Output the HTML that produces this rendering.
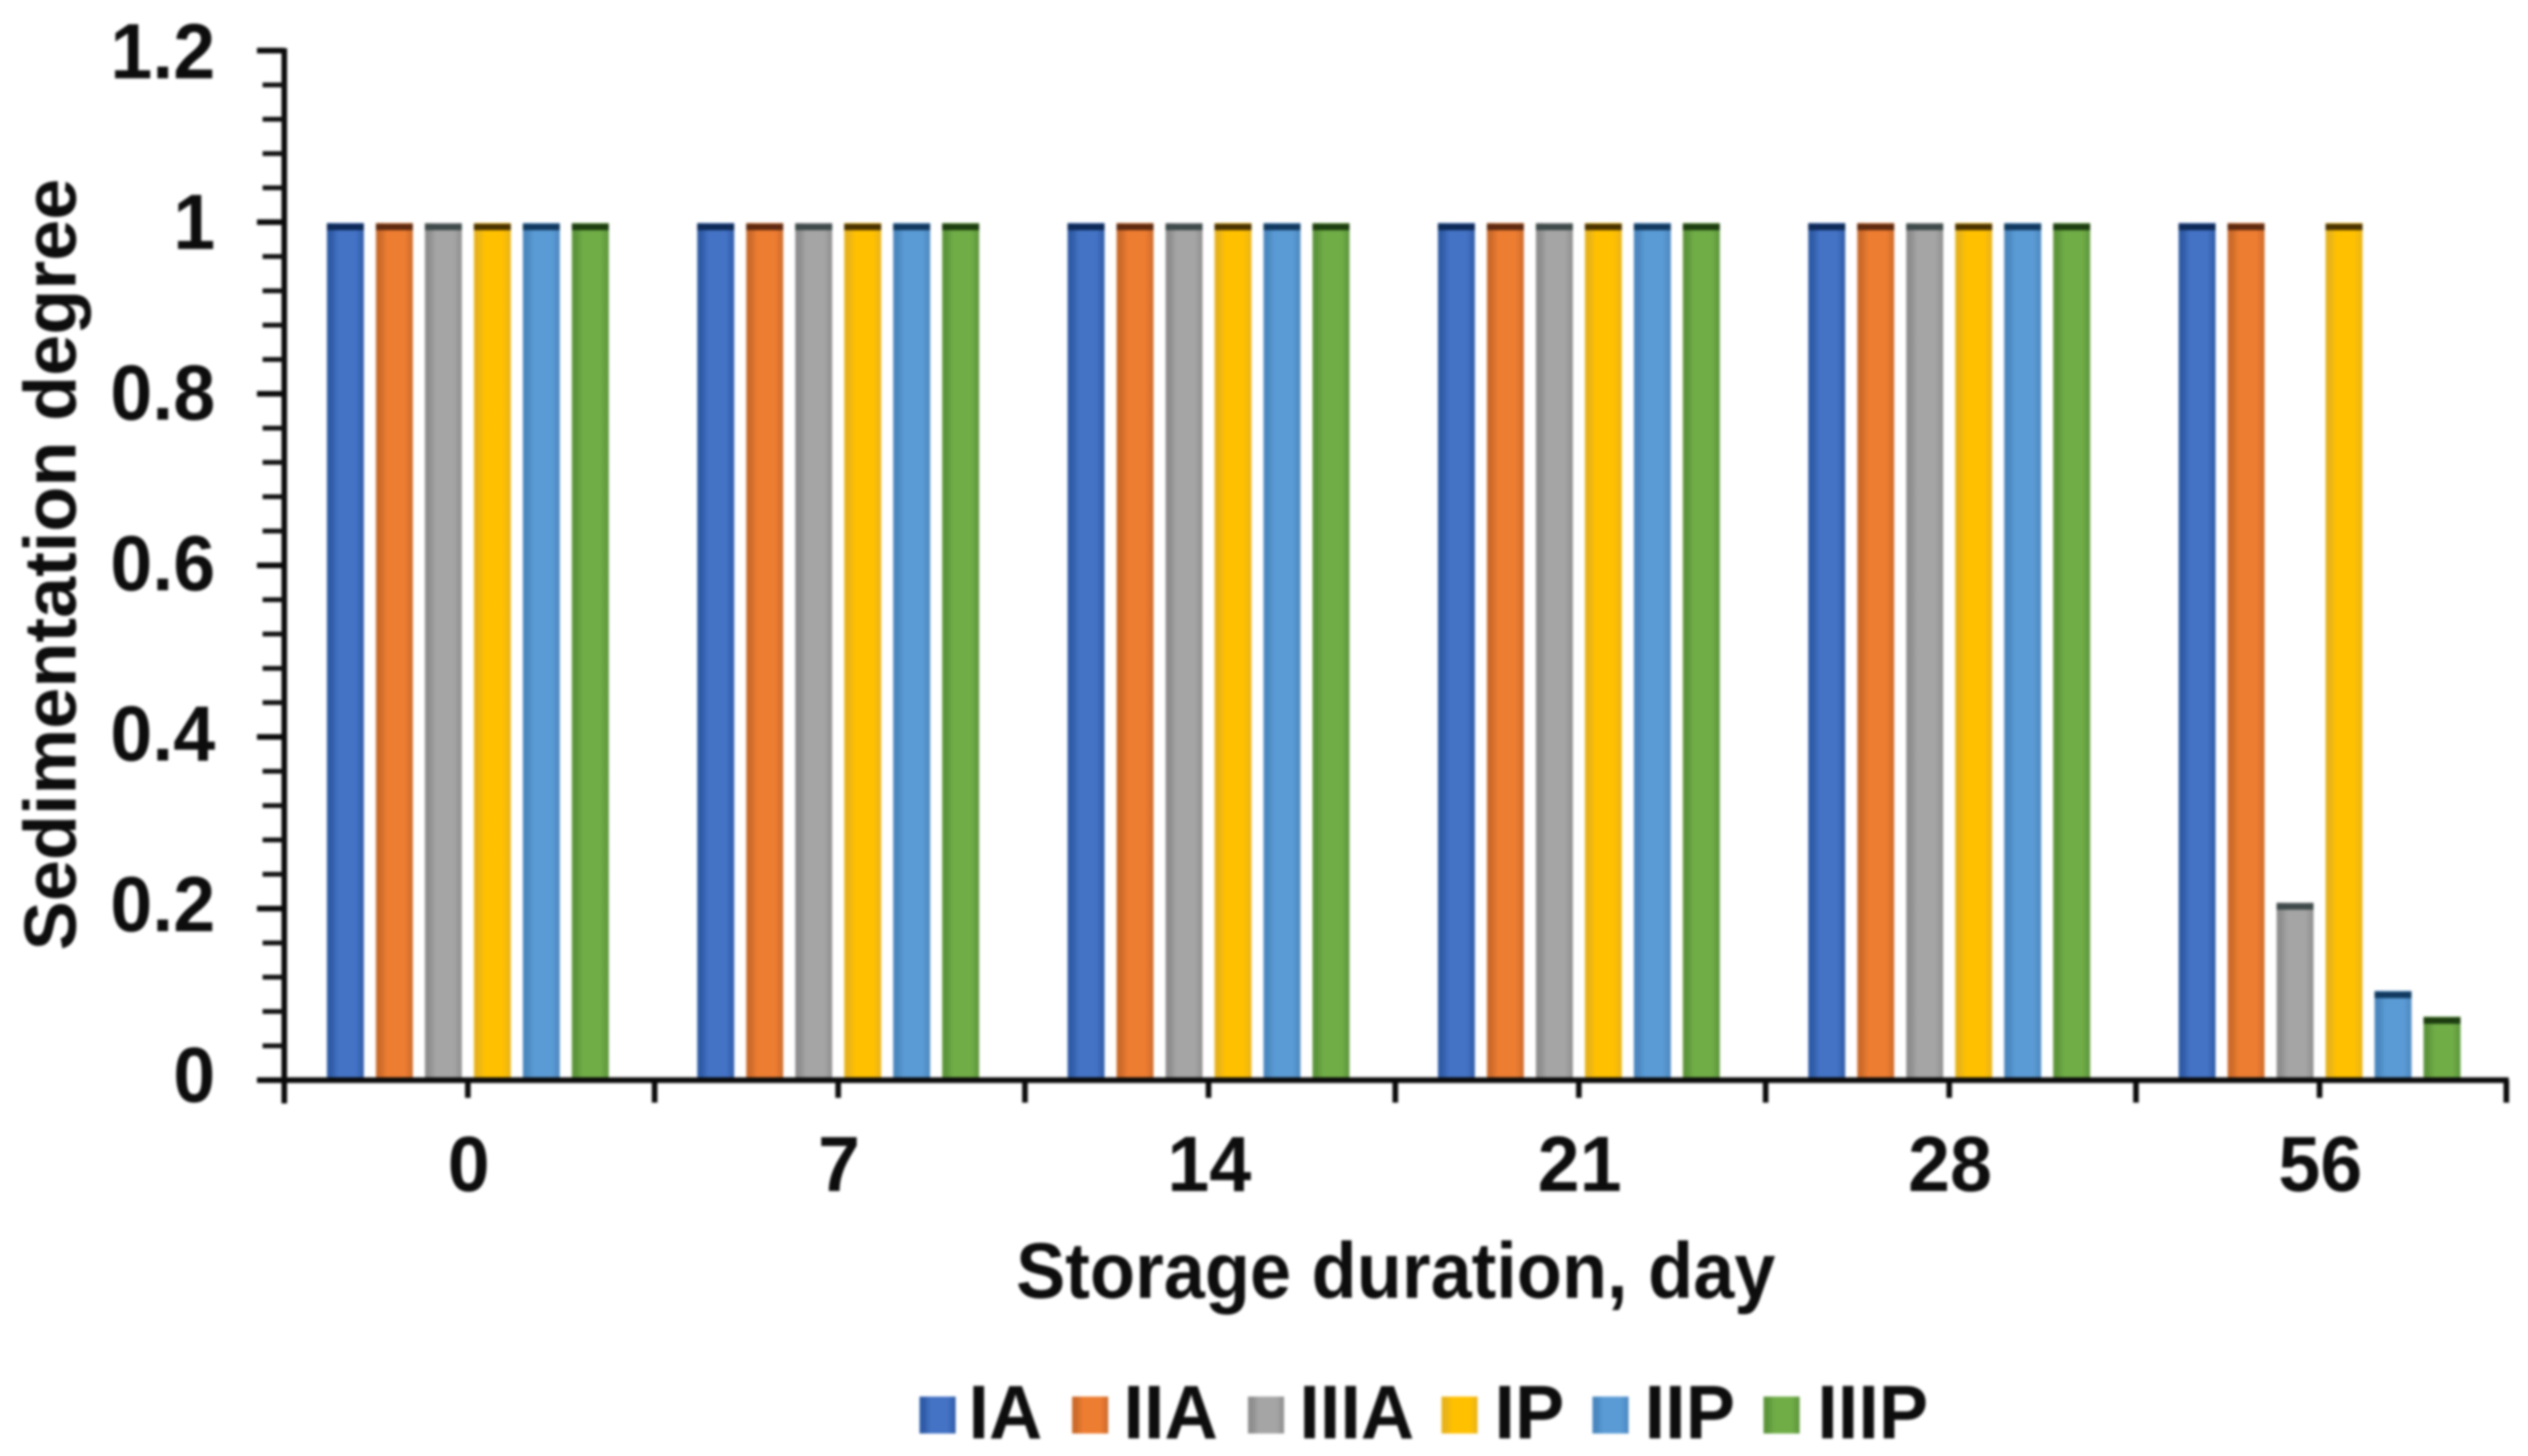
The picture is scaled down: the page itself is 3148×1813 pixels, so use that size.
<!DOCTYPE html>
<html lang="en">
<head>
<meta charset="utf-8">
<title>Sedimentation degree vs storage duration</title>
<style>
html,body{margin:0;padding:0;background:#fff;width:3148px;height:1813px;overflow:hidden}
svg{display:block;filter:blur(1.5px)}
text{font-family:"Liberation Sans",Arial,sans-serif;font-weight:bold;fill:#0d0d0d}
</style>
</head>
<body>
<svg id="chart" xmlns="http://www.w3.org/2000/svg" width="3148" height="1813" viewBox="0 0 3148 1813">
<defs id="gradients"></defs>
<rect x="0" y="0" width="3148" height="1813" fill="#ffffff"/>
<g id="bars"></g>
<g id="axes"></g>
<text transform="translate(94,703) rotate(-90)" text-anchor="middle" font-size="92">Sedimentation degree</text>
<text transform="translate(1738,1616) scale(1,1.07)" text-anchor="middle" font-size="92">Storage duration, day</text>
<g id="legend"></g>
</svg>
<script>
const categories = ['0', '7', '14', '21', '28', '56'];
const seriesNames = ['IA', 'IIA', 'IIIA', 'IP', 'IIP', 'IIIP'];
const valuesIA = [1, 1, 1, 1, 1, 1];
const valuesIIA = [1, 1, 1, 1, 1, 1];
const valuesIIIA = [1, 1, 1, 1, 1, 0.208];
const valuesIP = [1, 1, 1, 1, 1, 1];
const valuesIIP = [1, 1, 1, 1, 1, 0.105];
const valuesIIIP = [1, 1, 1, 1, 1, 0.075];
const yTickValues = [0, 0.2, 0.4, 0.6, 0.8, 1, 1.2];
const yTickLabels = ['0', '0.2', '0.4', '0.6', '0.8', '1', '1.2'];
const seriesValues = [valuesIA, valuesIIA, valuesIIIA, valuesIP, valuesIIP, valuesIIIP];
const fills = ['#4472C4', '#ED7D31', '#A5A5A5', '#FFC000', '#5B9BD5', '#70AD47'];
const edges = ['#2f5ba6', '#cc6a2a', '#8e8e8e', '#e8b31a', '#4a87bf', '#5c953a'];
const caps = ['#0e2a58', '#5e2a10', '#3f4a4a', '#4a3300', '#123a60', '#1d3d10'];

const NS = 'http://www.w3.org/2000/svg';
const plotLeft = 354, plotRight = 3121, plotBottom = 1345, plotTop = 63, yMax = 1.2;
const barWidth = 46, barPitch = 61;
const yScale = v => plotBottom - (v / yMax) * (plotBottom - plotTop);
const bandWidth = (plotRight - plotLeft) / categories.length;
const xBand = i => plotLeft + bandWidth * i;
const xCenter = i => xBand(i) + bandWidth / 2 - 2;
const xBar = (i, s) => xCenter(i) + (s - (seriesNames.length - 1) / 2) * barPitch - barWidth / 2;
const yLabel = v => 1372 - v * 1062;

function make(tag, attrs, parent, text) {
  const el = document.createElementNS(NS, tag);
  for (const k in attrs) el.setAttribute(k, attrs[k]);
  if (text !== undefined) el.textContent = text;
  parent.appendChild(el);
  return el;
}

const defs = document.getElementById('gradients');
const barsGroup = document.getElementById('bars');
const axesGroup = document.getElementById('axes');
const legendGroup = document.getElementById('legend');

seriesNames.forEach((n, s) => {
  const g = make('linearGradient', {id: 'fill-' + n, x1: 0, x2: 1, y1: 0, y2: 0}, defs);
  make('stop', {offset: '0', 'stop-color': edges[s]}, g);
  make('stop', {offset: '0.12', 'stop-color': edges[s]}, g);
  make('stop', {offset: '0.3', 'stop-color': fills[s]}, g);
  make('stop', {offset: '0.78', 'stop-color': fills[s]}, g);
  make('stop', {offset: '1', 'stop-color': edges[s]}, g);
});

seriesValues.forEach((vals, s) => {
  vals.forEach((v, i) => {
    const top = yScale(v) + 1;
    const bar = make('rect', {x: xBar(i, s), y: top, width: barWidth, height: plotBottom - top, fill: 'url(#fill-' + seriesNames[s] + ')'}, barsGroup);
    
    
    const cap = make('rect', {x: xBar(i, s), y: top + 1, width: barWidth, height: 8, fill: caps[s]}, barsGroup);
    
    
  });
});

const yAxisLine = make('line', {x1: plotLeft, x2: plotLeft, y1: plotTop - 3, y2: plotBottom + 29, stroke: '#0a0a0a', 'stroke-width': 7}, axesGroup);


const xAxisLine = make('line', {x1: plotLeft - 34, x2: plotRight + 3, y1: plotBottom, y2: plotBottom, stroke: '#0a0a0a', 'stroke-width': 7}, axesGroup);



const minorPerMajor = 5;
for (let m = 0; m < yTickValues.length - 1; m++) {
  for (let k = 1; k < minorPerMajor; k++) {
    const v = yTickValues[m] + (yTickValues[m + 1] - yTickValues[m]) * k / minorPerMajor;
    const minor = make('line', {x1: plotLeft - 27, x2: plotLeft, y1: yScale(v), y2: yScale(v), stroke: '#111', 'stroke-width': 6}, axesGroup);
    
    
  }
}

yTickValues.forEach((v, i) => {
  const tick = make('line', {x1: plotLeft - 34, x2: plotLeft, y1: yScale(v), y2: yScale(v), stroke: '#0a0a0a', 'stroke-width': 7}, axesGroup);
  
  
  const label = make('text', {transform: 'translate(268,' + yLabel(v) + ') scale(1,1.04)', 'text-anchor': 'end', 'font-size': 94}, axesGroup, yTickLabels[i]);
  
  
});

for (let i = 1; i <= categories.length; i++) {
  const tick = make('line', {x1: xBand(i), x2: xBand(i), y1: plotBottom, y2: plotBottom + 28, stroke: '#0a0a0a', 'stroke-width': 7}, axesGroup);
  
  
}

categories.forEach((c, i) => {
  const tick = make('line', {x1: xCenter(i), x2: xCenter(i), y1: plotBottom, y2: plotBottom + 22, stroke: '#0a0a0a', 'stroke-width': 7}, axesGroup);
  
  
  const label = make('text', {transform: 'translate(' + (xCenter(i) + 1) + ',1483) scale(1,1.04)', 'text-anchor': 'middle', 'font-size': 94}, axesGroup, c);
  
  
});

const legendSwatchX = [1145, 1335, 1554, 1795, 1983, 2196];
const legendTextX = [1206, 1399, 1618, 1861, 2048, 2263];
seriesNames.forEach((n, s) => {
  const swatch = make('rect', {x: legendSwatchX[s], y: 1739, width: 45, height: 46, fill: 'url(#fill-' + n + ')'}, legendGroup);
  
  
  const label = make('text', {transform: 'translate(' + legendTextX[s] + ',1791) scale(1,1.03)', 'font-size': 92}, legendGroup, n);
  
  
});
</script>
</body>
</html>
